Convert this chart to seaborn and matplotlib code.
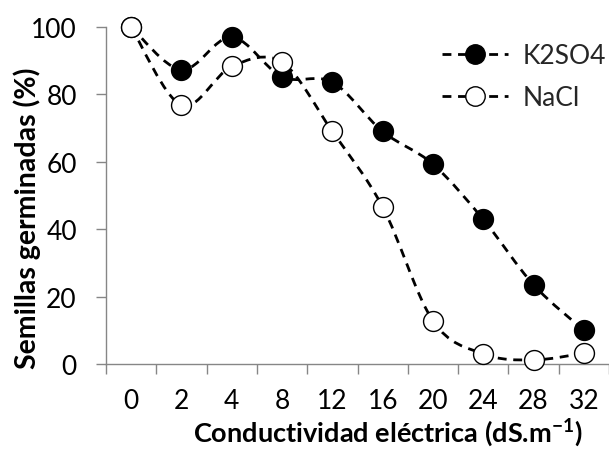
import numpy as np
import pandas as pd
import matplotlib
matplotlib.use("Agg")
import matplotlib.pyplot as plt
from matplotlib.path import Path
from matplotlib.patches import PathPatch
from matplotlib.lines import Line2D
import seaborn as sns

# ---- data ----
conductividad = ['0', '2', '4', '8', '12', '16', '20', '24', '28', '32']
k2so4 = [100, 87.3, 97.0, 85.2, 83.6, 69.0, 59.3, 42.9, 23.5, 10.0]
nacl = [100, 76.8, 88.3, 89.5, 69.0, 46.6, 12.8, 3.0, 1.2, 3.2]
yticks = [0, 20, 40, 60, 80, 100]

sns.set_theme(style="white")
plt.rcParams['font.family'] = ['Lato', 'DejaVu Sans']
plt.rcParams['mathtext.fontset'] = 'custom'
plt.rcParams['mathtext.rm'] = 'Lato'
plt.rcParams['mathtext.bf'] = 'Lato:bold'

FS = 19
AXC = '#868686'
DASH = (0, (3.2, 2.4))
LW = 2.0

fig = plt.figure(figsize=(6.09, 4.52), dpi=100)
ax = fig.add_axes([106/609, 1-365/452, 503/609, (365-28.0)/452])

df = pd.DataFrame({'cond': conductividad * 2,
                   'val': k2so4 + nacl,
                   'serie': ['K2SO4'] * len(k2so4) + ['NaCl'] * len(nacl)})


def smooth_path(xs, ys):
    pts = np.column_stack([xs, ys]).astype(float)
    n = len(pts)
    verts = [pts[0]]
    codes = [Path.MOVETO]
    for i in range(n - 1):
        p0 = pts[i - 1] if i > 0 else pts[i]
        p1 = pts[i]
        p2 = pts[i + 1]
        p3 = pts[i + 2] if i + 2 < n else pts[i + 1]
        c1 = p1 + (p2 - p0) / 6.0
        c2 = p2 - (p3 - p1) / 6.0
        verts += [c1, c2, p2]
        codes += [Path.CURVE4] * 3
    return Path(verts, codes)


styles = {'K2SO4': dict(face='black'), 'NaCl': dict(face='white')}
for z, (name, vals) in enumerate([('K2SO4', k2so4), ('NaCl', nacl)]):
    sub = df[df['serie'] == name]
    sns.scatterplot(data=sub, x='cond', y='val', ax=ax, s=205,
                    color=styles[name]['face'], edgecolor='black',
                    linewidth=1.0, zorder=4 + 2 * z, clip_on=False, legend=False)
    xs = np.arange(len(vals))
    patch = PathPatch(smooth_path(xs, vals), facecolor='none', edgecolor='black',
                      lw=LW, linestyle=DASH, zorder=3 + 2 * z, clip_on=False)
    ax.add_patch(patch)

ax.set_xlim(-0.5, len(conductividad) - 0.5)
ax.set_ylim(0, 100)
ax.set_yticks(yticks)
ax.set_yticklabels([str(v) for v in yticks])
ax.set_xticks(range(len(conductividad)))
ax.set_xticklabels(conductividad)
ax.set_xticks(np.arange(-0.5, len(conductividad)), minor=True)

for s in ['top', 'right']:
    ax.spines[s].set_visible(False)
for s in ['left', 'bottom']:
    ax.spines[s].set_color(AXC)
    ax.spines[s].set_linewidth(1.0)

ax.tick_params(axis='x', which='major', length=0, pad=17, labelsize=FS, labelcolor='black')
ax.tick_params(axis='x', which='minor', length=7, width=1.0, color=AXC, direction='out', bottom=True)
ax.tick_params(axis='y', which='major', length=7, width=1.0, color=AXC, direction='out',
               pad=14, labelsize=FS, labelcolor='black', left=True)

ax.set_xlabel(r'Conductividad eléctrica (dS.m$^{\mathbf{-1}}$)', fontsize=19.5,
              fontweight='bold', color='black')
ax.xaxis.set_label_coords(0.56, -0.152)
ax.set_ylabel('Semillas germinadas (%)', fontsize=20.5, fontweight='bold', color='black')
ax.yaxis.set_label_coords(-0.13, 0.435)

handles = [Line2D([], [], color='black', lw=LW, linestyle=DASH, marker='o', markersize=14,
                  markerfacecolor='black', markeredgecolor='black', markeredgewidth=1.0),
           Line2D([], [], color='black', lw=LW, linestyle=DASH, marker='o', markersize=14,
                  markerfacecolor='white', markeredgecolor='black', markeredgewidth=1.0)]
leg = ax.legend(handles, ['K2SO4', 'NaCl'], loc='upper right', bbox_to_anchor=(1.025, 1.0),
                frameon=False, fontsize=FS, handlelength=2.5, handletextpad=0.55,
                labelspacing=0.65, borderaxespad=0.2)

fig.savefig('out.png', dpi=100)
